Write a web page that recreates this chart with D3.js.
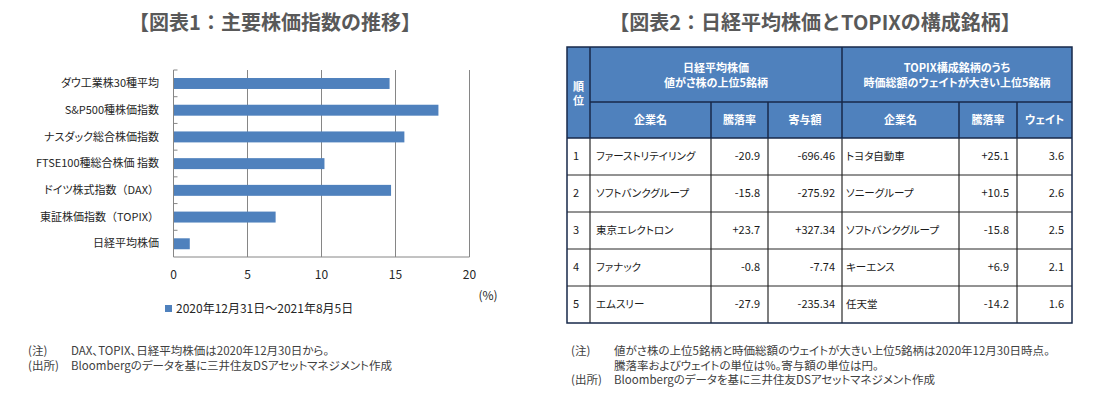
<!DOCTYPE html>
<html>
<head>
<meta charset="utf-8">
<script src="https://cdn.jsdelivr.net/npm/d3@7"></script>
<style>
  body { margin: 0; background: #fff; }
  svg text { font-family: "Noto Sans CJK JP", "Noto Sans", sans-serif; font-feature-settings: "palt"; }
  svg text.title { font-feature-settings: normal; }
  svg tspan.wide { font-feature-settings: normal; }
</style>
</head>
<body>
<svg id="chart" width="1099" height="397"></svg>
<script>
// 図表1 のデータ
const indices = ['ダウ工業株30種平均', 'S&P500種株価指数', 'ナスダック総合株価指数', 'FTSE100種総合株価 指数', 'ドイツ株式指数（DAX）', '東証株価指数（TOPIX）', '日経平均株価']
const changes = [14.6, 17.9, 15.6, 10.2, 14.7, 6.9, 1.1]
const xTicks = [0, 5, 10, 15, 20]
const legendLabel = '2020年12月31日～2021年8月5日'

// 図表2 のデータ
const ranks = [1, 2, 3, 4, 5]
const nikkeiNames = ['ファーストリテイリング', 'ソフトバンクグループ', '東京エレクトロン', 'ファナック', 'エムスリー']
const nikkeiChg = [-20.9, -15.8, 23.7, -0.8, -27.9]
const nikkeiContrib = [-696.46, -275.92, 327.34, -7.74, -235.34]
const topixNames = ['トヨタ自動車', 'ソニーグループ', 'ソフトバンクグループ', 'キーエンス', '任天堂']
const topixChg = [25.1, 10.5, -15.8, 6.9, -14.2]
const topixWeight = [3.6, 2.6, 2.5, 2.1, 1.6]
const subHeaders = ['企業名', '騰落率', '寄与額', '企業名', '騰落率', 'ウェイト']

const blue = '#4f81bd'
const svg = d3.select('#chart')

// ---- 図表1 ----
svg.append('text')
    .attr('class', 'title')
    .attr('x', 275).attr('y', 30)
    .attr('text-anchor', 'middle')
    .attr('font-size', 20).attr('font-weight', 'bold')
    .attr('fill', '#595959')
    .text('【図表1：主要株価指数の推移】')

const x = d3.scaleLinear().domain([0, 20]).range([173.5, 469.5])
const y = d3.scaleBand().domain(indices).range([70, 257])

const plot = svg.append('g')

plot.selectAll('.grid')
    .data(xTicks.slice(1))
    .join('line')
    .attr('x1', d => x(d)).attr('x2', d => x(d))
    .attr('y1', 70).attr('y2', 257)
    .attr('stroke', '#868686')

plot.selectAll('rect')
    .data(indices)
    .join('rect')
    .attr('x', x(0))
    .attr('y', d => y(d) + y.bandwidth() * 0.3)
    .attr('height', y.bandwidth() * 0.41)
    .attr('width', (d, i) => x(changes[i]) - x(0))
    .attr('fill', blue)

// 軸
plot.append('line')
    .attr('x1', x(0)).attr('x2', x(0)).attr('y1', 70).attr('y2', 257)
    .attr('stroke', '#868686')
plot.append('line')
    .attr('x1', x(0)).attr('x2', x(20)).attr('y1', 257).attr('y2', 257)
    .attr('stroke', '#868686')
plot.selectAll('.ytick')
    .data(indices)
    .join('line')
    .attr('x1', x(0)).attr('x2', x(0) + 4)
    .attr('y1', d => y(d)).attr('y2', d => y(d))
    .attr('stroke', '#868686')

// 括弧だけは全角幅のまま
plot.selectAll('.ylab')
    .data(indices)
    .join('text')
    .attr('x', 159)
    .attr('y', d => y(d) + y.bandwidth() / 2)
    .attr('dy', '0.35em')
    .attr('text-anchor', 'end')
    .attr('font-size', 11)
    .attr('fill', '#262626')
    .selectAll('tspan')
    .data(d => d.split(/([（）])/).filter(s => s))
    .join('tspan')
    .attr('class', s => /[（）]/.test(s) ? 'wide' : null)
    .text(s => s)

plot.selectAll('.xlab')
    .data(xTicks)
    .join('text')
    .attr('x', d => x(d))
    .attr('y', 279)
    .attr('text-anchor', 'middle')
    .attr('font-size', 12)
    .attr('fill', '#262626')
    .text(d => d)

svg.append('text')
    .attr('x', 488).attr('y', 300)
    .attr('text-anchor', 'middle')
    .attr('font-size', 12).attr('fill', '#262626')
    .text('(%)')

svg.append('rect')
    .attr('x', 165).attr('y', 305).attr('width', 7).attr('height', 7)
    .attr('fill', blue)
svg.append('text')
    .attr('x', 176).attr('y', 313)
    .attr('font-size', 12).attr('fill', '#262626')
    .text(legendLabel)

// ---- 図表2 ----
svg.append('text')
    .attr('class', 'title')
    .attr('x', 815).attr('y', 30)
    .attr('text-anchor', 'middle')
    .attr('font-size', 20).attr('font-weight', 'bold')
    .attr('fill', '#595959')
    .text('【図表2：日経平均株価とTOPIXの構成銘柄】')

const cols = [567, 590, 711, 768, 842, 959, 1017, 1072]
const tTop = 47, hMid = 102, hBot = 138
const row = d3.scaleBand().domain(ranks).range([hBot, 323])

const fmtLocale = d3.formatLocale({decimal: '.', thousands: ',', grouping: [3], currency: ['', ''], minus: '-'})
const pct = fmtLocale.format('+.1f')
const yen = fmtLocale.format('+.2f')
const wt = fmtLocale.format('.1f')

const table = svg.append('g')

table.append('rect')
    .attr('x', cols[0]).attr('y', tTop)
    .attr('width', cols[7] - cols[0]).attr('height', hBot - tTop)
    .attr('fill', blue)

// 本文の縦線
table.selectAll('.vbody')
    .data(cols.slice(1, 7))
    .join('line')
    .attr('x1', d => d).attr('x2', d => d)
    .attr('y1', hBot).attr('y2', row(5) + row.bandwidth())
    .attr('stroke', '#7f7f7f').attr('stroke-width', 2)

// 本文の横線
table.selectAll('.hbody')
    .data(ranks.slice(1))
    .join('line')
    .attr('x1', cols[0]).attr('x2', cols[7])
    .attr('y1', d => row(d)).attr('y2', d => row(d))
    .attr('stroke', '#262626').attr('stroke-width', 1)

// 見出しの罫線
const hdrLines = [
    [cols[1], tTop, cols[1], hBot],
    [cols[4], tTop, cols[4], hBot],
    [cols[1], hMid, cols[7], hMid],
    [cols[2], hMid, cols[2], hBot],
    [cols[3], hMid, cols[3], hBot],
    [cols[5], hMid, cols[5], hBot],
    [cols[6], hMid, cols[6], hBot],
    [cols[0], hBot, cols[7], hBot]
]
table.selectAll('.hdr')
    .data(hdrLines)
    .join('line')
    .attr('x1', d => d[0]).attr('y1', d => d[1])
    .attr('x2', d => d[2]).attr('y2', d => d[3])
    .attr('stroke', '#17294a').attr('stroke-width', 1.5)

table.append('rect')
    .attr('x', cols[0]).attr('y', tTop)
    .attr('width', cols[7] - cols[0]).attr('height', row(5) + row.bandwidth() - tTop)
    .attr('fill', 'none')
    .attr('stroke', '#17294a').attr('stroke-width', 1.5)

const hdrText = (tx, ty, s) => table.append('text')
    .attr('x', tx).attr('y', ty).attr('dy', '0.35em')
    .attr('text-anchor', 'middle')
    .attr('font-size', 11).attr('font-weight', 'bold')
    .attr('fill', '#fff')
    .text(s)

hdrText((cols[0] + cols[1]) / 2, 87, '順')
hdrText((cols[0] + cols[1]) / 2, 101, '位')
hdrText((cols[1] + cols[4]) / 2, 68, '日経平均株価')
hdrText((cols[1] + cols[4]) / 2, 83, '値がさ株の上位5銘柄')
hdrText((cols[4] + cols[7]) / 2, 68, 'TOPIX構成銘柄のうち')
hdrText((cols[4] + cols[7]) / 2, 83, '時価総額のウェイトが大きい上位5銘柄')
subHeaders.forEach((s, i) => hdrText((cols[i + 1] + cols[i + 2]) / 2, 120, s))

const rowsData = ranks.map((r, i) => [
    {v: r, x: cols[0] + 6, a: 'start', f: 11},
    {v: nikkeiNames[i], x: cols[1] + 6, a: 'start', f: 10.5},
    {v: pct(nikkeiChg[i]), x: cols[3] - 8, a: 'end', f: 11},
    {v: yen(nikkeiContrib[i]), x: cols[4] - 7, a: 'end', f: 11},
    {v: topixNames[i], x: cols[4] + 4, a: 'start', f: 10.5},
    {v: pct(topixChg[i]), x: cols[6] - 8, a: 'end', f: 11},
    {v: wt(topixWeight[i]), x: cols[7] - 8, a: 'end', f: 11}
])

table.selectAll('.brow')
    .data(rowsData)
    .join('g')
    .attr('transform', (d, i) => `translate(0,${row(ranks[i]) + row.bandwidth() / 2})`)
    .selectAll('text')
    .data(d => d)
    .join('text')
    .attr('x', d => d.x)
    .attr('dy', '0.35em')
    .attr('text-anchor', d => d.a)
    .attr('font-size', d => d.f)
    .attr('fill', '#1a1a1a')
    .text(d => d.v)

// ---- 注記 ----
const notes = [
    {x: 28, y: 355, s: '(注)'},
    {x: 71, y: 355, s: 'DAX、TOPIX、日経平均株価は2020年12月30日から。'},
    {x: 28, y: 369.5, s: '(出所)'},
    {x: 71, y: 369.5, s: 'Bloombergのデータを基に三井住友DSアセットマネジメント作成'},
    {x: 571, y: 355, s: '(注)'},
    {x: 614, y: 355, s: '値がさ株の上位5銘柄と時価総額のウェイトが大きい上位5銘柄は2020年12月30日時点。'},
    {x: 614, y: 369.5, s: '騰落率およびウェイトの単位は%。寄与額の単位は円。'},
    {x: 571, y: 384, s: '(出所)'},
    {x: 614, y: 384, s: 'Bloombergのデータを基に三井住友DSアセットマネジメント作成'}
]
svg.selectAll('.note')
    .data(notes)
    .join('text')
    .attr('x', d => d.x).attr('y', d => d.y)
    .attr('font-size', 11.5)
    .attr('fill', '#404040')
    .text(d => d.s)
</script>
</body>
</html>
